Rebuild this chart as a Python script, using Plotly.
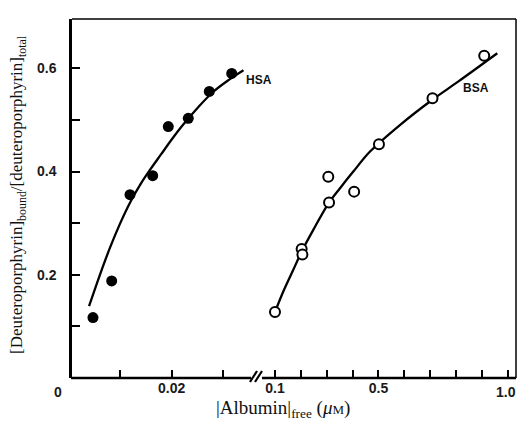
import plotly.graph_objects as go

# ---------------- data ----------------
hsa_x = [0.00476, 0.00838, 0.01193, 0.01632, 0.01934, 0.02321, 0.02728, 0.03162]
hsa_y = [0.117, 0.188, 0.355, 0.392, 0.487, 0.503, 0.555, 0.590]

bsa_x = [0.100, 0.203, 0.206, 0.309, 0.306, 0.406, 0.502, 0.709, 0.909]
bsa_y = [0.128, 0.250, 0.239, 0.340, 0.390, 0.361, 0.453, 0.542, 0.624]

hsa_fit_x = [0.0040, 0.0060, 0.0080, 0.0100, 0.0120, 0.0140, 0.0160, 0.0180,
             0.0200, 0.0220, 0.0250, 0.0280, 0.0310, 0.0339]
hsa_fit_y = [0.139, 0.197, 0.251, 0.299, 0.341, 0.376, 0.406, 0.434,
             0.462, 0.488, 0.523, 0.554, 0.577, 0.596]

bsa_fit_x = [0.0999, 0.1321, 0.1708, 0.2032, 0.2481, 0.3088, 0.3514, 0.4028,
             0.4674, 0.583, 0.7085, 0.808, 0.9596]
bsa_fit_y = [0.1277, 0.1676, 0.2096, 0.245, 0.287, 0.3398, 0.3677, 0.3998,
             0.4386, 0.490, 0.539, 0.574, 0.629]

left_tickvals = [0.01, 0.02, 0.03]
left_ticktext = ["", "0.02", ""]
right_tickvals = [0.1, 0.2, 0.3, 0.4, 0.5, 0.6, 0.7, 0.8, 0.9, 1.0]
right_ticktext = ["0.1", "", "", "", "0.5", "", "", "", "", ""]
right_end_label = "1.0"
y_tickvals = [0.1, 0.2, 0.3, 0.4, 0.5, 0.6]
y_ticktext = ["", "0.2", "", "0.4", "", "0.6"]

# ---------------- figure geometry ----------------
W, H = 520, 430
ML, MR, MT, MB = 72, 4, 19, 52
PW = W - ML - MR
PH = H - MT - MB
BREAK = 0.4144


def px(xp):
    return (xp - ML) / PW


def py(yp):
    return (H - MB - yp) / PH


SANS = "Liberation Sans, Arial, sans-serif"
SERIF = "Liberation Serif, Times New Roman, serif"

fig = go.Figure()

fig.add_trace(go.Scatter(x=hsa_fit_x, y=hsa_fit_y, mode="lines",
                         line=dict(color="black", width=2.3, shape="spline"),
                         xaxis="x", yaxis="y", hoverinfo="skip"))
fig.add_trace(go.Scatter(x=bsa_fit_x, y=bsa_fit_y, mode="lines",
                         line=dict(color="black", width=2.3, shape="spline"),
                         xaxis="x2", yaxis="y", hoverinfo="skip"))
fig.add_trace(go.Scatter(x=hsa_x, y=hsa_y, mode="markers", name="HSA",
                         marker=dict(symbol="circle", size=11, color="black"),
                         xaxis="x", yaxis="y", cliponaxis=False))
fig.add_trace(go.Scatter(x=bsa_x, y=bsa_y, mode="markers", name="BSA",
                         marker=dict(symbol="circle", size=10, color="white",
                                     line=dict(color="black", width=2)),
                         xaxis="x2", yaxis="y", cliponaxis=False))

tickfont = dict(family=SANS, size=14, color="#1a1a1a", weight="bold")

fig.update_layout(
    width=W, height=H,
    margin=dict(l=ML, r=MR, t=MT, b=MB, pad=0),
    paper_bgcolor="white", plot_bgcolor="white",
    showlegend=False,
    xaxis=dict(domain=[0, BREAK], range=[0.0007, 0.03632],
               tickmode="array", tickvals=left_tickvals, ticktext=left_ticktext,
               ticks="inside", ticklen=8, tickwidth=2, tickcolor="black",
               showline=False, showgrid=False, zeroline=False,
               tickfont=tickfont, anchor="y"),
    xaxis2=dict(domain=[BREAK, 1], range=[0.02653, 1.0319],
                tickmode="array", tickvals=right_tickvals, ticktext=right_ticktext,
                ticks="inside", ticklen=8, tickwidth=2, tickcolor="black",
                showline=False, showgrid=False, zeroline=False,
                tickfont=tickfont, anchor="y"),
    yaxis=dict(range=[0, 0.6954], tickmode="array",
               tickvals=y_tickvals, ticktext=y_ticktext,
               ticks="inside", ticklen=8, tickwidth=2, tickcolor="black",
               showline=True, linewidth=2.5, linecolor="black",
               showgrid=False, zeroline=False, tickfont=tickfont,
               ticklabelstandoff=10, anchor="x"),
)

shapes = []
line_main = dict(color="black", width=2.5)
line_thin = dict(color="black", width=1.5)
# bottom axis with break
shapes.append(dict(type="line", xref="paper", yref="paper",
                   x0=px(71), x1=px(251), y0=0, y1=0, line=line_main))
shapes.append(dict(type="line", xref="paper", yref="paper",
                   x0=px(262), x1=px(516), y0=0, y1=0, line=line_main))
# break marks
for off in (0, 5):
    shapes.append(dict(type="line", xref="paper", yref="paper",
                       x0=px(250 + off), x1=px(257 + off),
                       y0=py(382), y1=py(371), line=dict(color="black", width=2.2)))
# top and right border
shapes.append(dict(type="line", xref="paper", yref="paper",
                   x0=0, x1=1, y0=1, y1=1, line=line_thin))
shapes.append(dict(type="line", xref="paper", yref="paper",
                   x0=1, x1=1, y0=0, y1=1, line=line_thin))
fig.update_layout(shapes=shapes)

annotations = [
    dict(text="0", xref="paper", yref="paper", x=px(58), y=py(392),
         showarrow=False, font=tickfont, xanchor="center", yanchor="middle"),
    dict(text=right_end_label, xref="paper", yref="paper", x=px(518), y=py(392),
         showarrow=False, font=tickfont, xanchor="right", yanchor="middle"),
    dict(text="HSA", xref="paper", yref="paper", x=px(259), y=py(80),
         showarrow=False, font=dict(family=SANS, size=12, color="#111", weight="bold"),
         xanchor="center", yanchor="middle"),
    dict(text="BSA", xref="paper", yref="paper", x=px(475.5), y=py(88),
         showarrow=False, font=dict(family=SANS, size=12, color="#111", weight="bold"),
         xanchor="center", yanchor="middle"),
    dict(text="|Albumin|<sub>free</sub> (<i>μ</i><span style='font-size:13px'>M</span>)",
         xref="paper", yref="paper", x=px(283), y=py(409),
         showarrow=False, font=dict(family=SERIF, size=19, color="#111"),
         xanchor="center", yanchor="middle"),
    dict(text="[Deuteroporphyrin]<sub>bound</sub>/[deuteroporphyrin]<sub>total</sub>",
         xref="paper", yref="paper", x=px(18), y=py(195), textangle=-90,
         showarrow=False, font=dict(family=SERIF, size=17, color="#111"),
         xanchor="center", yanchor="middle"),
]
fig.update_layout(annotations=annotations)

fig.write_html(
    "out.html",
    config={"displayModeBar": False},
    post_script="document.body.style.margin='0';document.body.style.overflow='hidden';",
)
